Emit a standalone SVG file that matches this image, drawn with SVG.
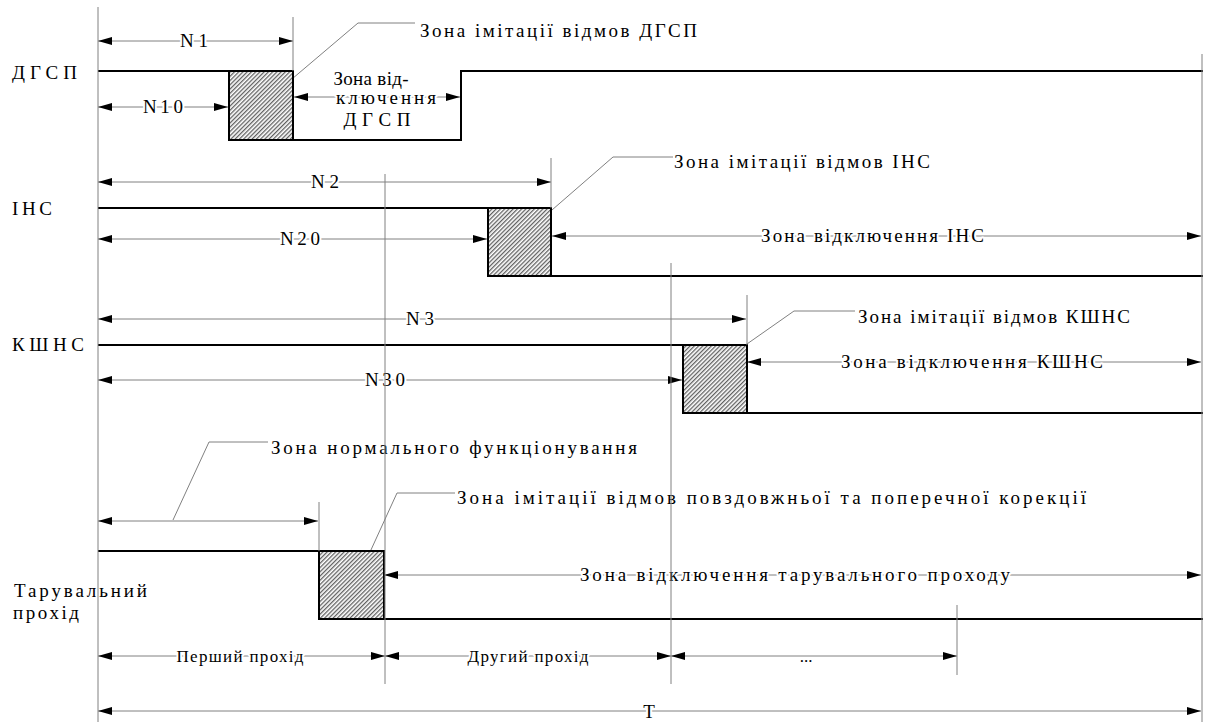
<svg xmlns="http://www.w3.org/2000/svg" width="1205" height="724" viewBox="0 0 1205 724">
<style>
.sig{fill:none;stroke:#000;stroke-width:2}
.thin{fill:none;stroke:#808080;stroke-width:1}
.arr{fill:none;stroke:#808080;stroke-width:1;marker-start:url(#ah);marker-end:url(#ah)}
.box{fill:url(#hatch);stroke:#000;stroke-width:2}
.lab{paint-order:stroke;stroke:#fff;stroke-width:4;stroke-linejoin:round}
</style>
<defs>
<marker id="ah" markerUnits="userSpaceOnUse" markerWidth="14" markerHeight="8" refX="14" refY="4" orient="auto-start-reverse" viewBox="0 0 14 8">
<path d="M0,0 L14,4 L0,8 z" fill="#000"/>
</marker>
<pattern id="hatch" patternUnits="userSpaceOnUse" width="3" height="3" patternTransform="rotate(45)">
<rect width="3" height="3" fill="#fff"/>
<line x1="0.7" y1="0" x2="0.7" y2="3" stroke="#444" stroke-width="1.1"/>
</pattern>
</defs>

<g id="connectors">
<line class="arr" x1="98" y1="41" x2="293" y2="41"/>
<line class="arr" x1="98" y1="107" x2="228" y2="107"/>
<line class="arr" x1="294" y1="97" x2="460" y2="97"/>
<line class="arr" x1="98" y1="182" x2="551" y2="182"/>
<line class="arr" x1="98" y1="239" x2="487" y2="239"/>
<line class="arr" x1="552" y1="236" x2="1201" y2="236"/>
<line class="arr" x1="98" y1="319" x2="746" y2="319"/>
<line class="arr" x1="98" y1="380" x2="682" y2="380"/>
<line class="arr" x1="747" y1="362" x2="1201" y2="362"/>
<line class="arr" x1="98" y1="521" x2="318" y2="521"/>
<line class="arr" x1="384" y1="575" x2="1201" y2="575"/>
<line class="arr" x1="98" y1="656" x2="385" y2="656"/>
<line class="arr" x1="385" y1="656" x2="671" y2="656"/>
<line class="arr" x1="671" y1="656" x2="957" y2="656"/>
<line class="arr" x1="98" y1="711" x2="1201" y2="711"/>
<polyline class="thin" points="279,90 358,23 415,23"/>
<polyline class="thin" points="537,223 613,157 673,157"/>
<polyline class="thin" points="727,358 794,311 855,311"/>
<polyline class="thin" points="173,520 209,442 268,442"/>
<polyline class="thin" points="365,563 397,493 455,493"/>
</g>

<g id="labels">
<text font-family="Liberation Serif" font-size="19" x="12" y="79" textLength="65" lengthAdjust="spacing">ДГСП</text>
<text font-family="Liberation Serif" font-size="19" x="12" y="215" textLength="40" lengthAdjust="spacing">ІНС</text>
<text font-family="Liberation Serif" font-size="19" x="12" y="351" textLength="72" lengthAdjust="spacing">КШНС</text>
<text font-family="Liberation Serif" font-size="19" x="14" y="597" textLength="133" lengthAdjust="spacing">Тарувальний</text>
<text font-family="Liberation Serif" font-size="19" x="13" y="619" textLength="66" lengthAdjust="spacing">прохід</text>
</g>

<g id="dgsp">
<text font-family="Liberation Serif" font-size="19" class="lab" x="194" y="47" text-anchor="middle" textLength="28" lengthAdjust="spacing">N1</text>
<text font-family="Liberation Serif" font-size="19" class="lab" x="163" y="113" text-anchor="middle" textLength="40" lengthAdjust="spacing">N10</text>
<text font-family="Liberation Serif" font-size="19" x="371" y="85" text-anchor="middle" textLength="75" lengthAdjust="spacing">Зона від-</text>
<text font-family="Liberation Serif" font-size="19" class="lab" x="386" y="104" text-anchor="middle" textLength="100" lengthAdjust="spacing">ключення</text>
<text font-family="Liberation Serif" font-size="19" x="377" y="126" text-anchor="middle" textLength="67" lengthAdjust="spacing">ДГСП</text>
<text font-family="Liberation Serif" font-size="19" x="420" y="37" textLength="277" lengthAdjust="spacing">Зона імітації відмов ДГСП</text>
</g>

<g id="ins">
<text font-family="Liberation Serif" font-size="19" class="lab" x="325" y="188" text-anchor="middle" textLength="28" lengthAdjust="spacing">N2</text>
<text font-family="Liberation Serif" font-size="19" class="lab" x="300" y="245" text-anchor="middle" textLength="40" lengthAdjust="spacing">N20</text>
<text font-family="Liberation Serif" font-size="19" class="lab" x="761" y="242" textLength="223" lengthAdjust="spacing">Зона відключення ІНС</text>
<text font-family="Liberation Serif" font-size="19" x="674" y="168" textLength="256" lengthAdjust="spacing">Зона імітації відмов ІНС</text>
</g>

<g id="kshns">
<text font-family="Liberation Serif" font-size="19" class="lab" x="420" y="325" text-anchor="middle" textLength="28" lengthAdjust="spacing">N3</text>
<text font-family="Liberation Serif" font-size="19" class="lab" x="385" y="386" text-anchor="middle" textLength="40" lengthAdjust="spacing">N30</text>
<text font-family="Liberation Serif" font-size="19" class="lab" x="841" y="368" textLength="262" lengthAdjust="spacing">Зона відключення КШНС</text>
<text font-family="Liberation Serif" font-size="19" x="858" y="323" textLength="272" lengthAdjust="spacing">Зона імітації відмов КШНС</text>
</g>

<g id="tar">
<text font-family="Liberation Serif" font-size="19" x="271" y="454" textLength="366" lengthAdjust="spacing">Зона нормального функціонування</text>
<text font-family="Liberation Serif" font-size="19" x="457" y="504" textLength="629" lengthAdjust="spacing">Зона імітації відмов повздовжньої та поперечної корекції</text>
<text font-family="Liberation Serif" font-size="19" class="lab" x="580" y="581" textLength="430" lengthAdjust="spacing">Зона відключення тарувального проходу</text>
</g>

<g id="passes">
<text font-family="Liberation Serif" font-size="17" class="lab" x="240" y="662" text-anchor="middle" textLength="127" lengthAdjust="spacing">Перший прохід</text>
<text font-family="Liberation Serif" font-size="17" class="lab" x="528" y="662" text-anchor="middle" textLength="121" lengthAdjust="spacing">Другий прохід</text>
<text font-family="Liberation Serif" font-size="17" class="lab" x="806" y="662" text-anchor="middle">...</text>
<text font-family="Liberation Serif" font-size="19" class="lab" x="649" y="718" text-anchor="middle">T</text>
</g>

<g id="signals">
<polyline class="sig" points="98,71 229,71"/>
<rect class="box" x="229" y="71" width="64" height="69"/>
<polyline class="sig" points="293,71 293,140 461,140 461,71 1203,71"/>
<polyline class="sig" points="98,208 488,208"/>
<rect class="box" x="488" y="208" width="63" height="68"/>
<polyline class="sig" points="551,208 551,276 1203,276"/>
<polyline class="sig" points="98,345 683,345"/>
<rect class="box" x="683" y="345" width="64" height="68"/>
<polyline class="sig" points="747,345 747,413 1203,413"/>
<polyline class="sig" points="98,551 319,551"/>
<rect class="box" x="319" y="551" width="65" height="68"/>
<polyline class="sig" points="384,551 384,619 1203,619"/>
</g>

<g id="gridlines">
<line class="thin" x1="98" y1="7" x2="98" y2="722"/>
<line class="thin" x1="1202" y1="54" x2="1202" y2="722"/>
<line class="thin" x1="293" y1="17" x2="293" y2="71"/>
<line class="thin" x1="551" y1="158" x2="551" y2="208"/>
<line class="thin" x1="747" y1="295" x2="747" y2="345"/>
<line class="thin" x1="319" y1="502" x2="319" y2="551"/>
<line class="thin" x1="385" y1="174" x2="385" y2="684"/>
<line class="thin" x1="671" y1="263" x2="671" y2="684"/>
<line class="thin" x1="957" y1="605" x2="957" y2="675"/>
</g>
</svg>
